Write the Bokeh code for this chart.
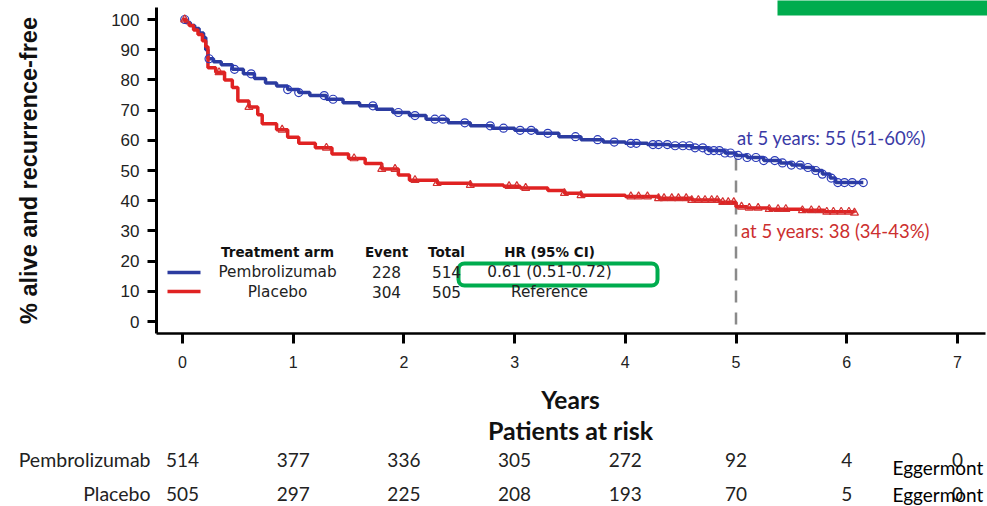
import numpy as np
from bokeh.plotting import figure
from bokeh.models import Range1d, Label, FixedTicker
from bokeh.embed import file_html
from bokeh.resources import INLINE

# Kaplan-Meier estimates: years since randomisation, % alive and recurrence-free
pembro_time = [0, 0.03, 0.07, 0.11, 0.15, 0.19, 0.21, 0.23, 0.28, 0.35,
               0.45, 0.55, 0.65, 0.75, 0.85, 0.95, 1.05, 1.15, 1.3, 1.45,
               1.6, 1.75, 1.9, 2.05, 2.2, 2.4, 2.6, 2.8, 3.0, 3.2,
               3.4, 3.6, 3.8, 4.0, 4.2, 4.4, 4.6, 4.75, 4.9, 5.0,
               5.1, 5.25, 5.4, 5.5, 5.6, 5.7, 5.78, 5.85, 5.9, 6.15]
pembro_surv = [100, 99, 98, 97, 95.5, 94, 90, 87, 86, 85,
               83.5, 82, 80.5, 79, 78, 76.8, 75.8, 74.8, 73.6, 72.4,
               71.4, 70.3, 69.2, 68.2, 67.0, 65.8, 64.8, 64.0, 63.3, 62.3,
               61.2, 60.2, 59.4, 59.0, 58.6, 58.2, 57.5, 56.6, 55.8, 55.0,
               54.3, 53.3, 52.5, 51.8, 51.0, 50.0, 48.8, 47.5, 46.0, 46.0]

placebo_time = [0, 0.03, 0.06, 0.1, 0.14, 0.18, 0.21, 0.23, 0.3, 0.38,
                0.45, 0.5, 0.6, 0.68, 0.72, 0.85, 0.95, 1.05, 1.2, 1.35,
                1.5, 1.65, 1.8, 1.95, 2.05, 2.3, 2.6, 2.9, 3.05, 3.3,
                3.45, 3.6, 4.0, 4.3, 4.6, 4.85, 5.0, 5.1, 5.3, 5.6,
                5.8, 6.07]
placebo_surv = [100, 99, 98, 96.5, 95, 93, 91, 84, 82.5, 80,
                77.5, 73, 71, 68.5, 65.5, 63.5, 61, 59, 57.5, 55.5,
                54, 52.3, 50.5, 48.5, 46.8, 45.8, 45.2, 44.8, 44.2, 43.4,
                42.5, 41.8, 41.4, 40.8, 40.2, 39.5, 38.0, 37.6, 37.2, 36.8,
                36.3, 36.0]

# censoring times
pembro_censor = [0.02, 0.24, 0.47, 0.62, 0.95, 1.05, 1.28, 1.36, 1.72, 1.95,
                 2.1, 2.28, 2.35, 2.55, 2.78, 2.9, 3.05, 3.15, 3.3, 3.55,
                 3.75, 3.9, 4.05, 4.1, 4.25, 4.3, 4.38, 4.45, 4.52, 4.58,
                 4.63, 4.7, 4.75, 4.8, 4.85, 4.9, 4.95, 5.02, 5.1, 5.18,
                 5.25, 5.35, 5.42, 5.5, 5.58, 5.65, 5.72, 5.78, 5.86, 5.92,
                 5.98, 6.05, 6.15]
placebo_censor = [0.02, 0.33, 0.6, 0.9, 1.3, 1.55, 1.8, 1.92, 2.1, 2.3,
                  2.6, 2.95, 3.02, 3.1, 3.45, 3.6, 4.05, 4.12, 4.2, 4.3,
                  4.35, 4.42, 4.48, 4.55, 4.6, 4.66, 4.72, 4.78, 4.83, 4.88,
                  4.93, 4.98, 5.05, 5.12, 5.2, 5.3, 5.38, 5.45, 5.6, 5.68,
                  5.75, 5.82, 5.88, 5.95, 6.02, 6.07]

# patients at risk
risk_years = [0, 1, 2, 3, 4, 5, 6, 7]
pembro_at_risk = [514, 377, 336, 305, 272, 92, 4, 0]
placebo_at_risk = [505, 297, 225, 208, 193, 70, 5, 0]

# summary table
arms = ["Pembrolizumab", "Placebo"]
events = [228, 304]
totals = [514, 505]
hazard_ratios = ["0.61 (0.51-0.72)", "Reference"]
five_year_rate = [55, 38]
five_year_ci = ["51-60%", "34-43%"]

x_ticks = [0, 1, 2, 3, 4, 5, 6, 7]
y_ticks = [0, 10, 20, 30, 40, 50, 60, 70, 80, 90, 100]

BLUE = "#2c3ca0"
BLUE_MARK = "#2a3ab8"
RED = "#e02222"
RED_MARK = "#d43030"
GREEN = "#00ac4e"

# screen placement of the data: the frame fills the whole page and the
# axes sit at fixed locations inside it, so the risk table is not clipped
X0_PX, X_SCALE = 182.0, 110.7   # x pixel of year 0, pixels per year
Y0_PX, Y_SCALE = 321.0, 3.02    # y pixel of 0 %, pixels per percent point


def xd(px):
    return (px - X0_PX) / X_SCALE


def yd(py):
    return (Y0_PX - py) / Y_SCALE


def surv_at(times, surv, t):
    idx = np.searchsorted(np.asarray(times), np.asarray(t), side="right") - 1
    return np.asarray(surv)[idx]


p = figure(width=987, height=506,
           x_range=Range1d(xd(0), xd(987)),
           y_range=Range1d(yd(506), yd(0)),
           output_backend="svg", toolbar_location=None, min_border=0)
p.outline_line_color = None
p.grid.visible = False
p.background_fill_color = "white"
p.border_fill_color = "white"

p.xaxis.fixed_location = yd(333)
p.xaxis.ticker = FixedTicker(ticks=x_ticks)
p.xaxis.bounds = (xd(156), xd(985))
p.xaxis.axis_line_width = 2.5
p.xaxis.major_tick_line_width = 3
p.xaxis.major_tick_out = 10
p.xaxis.major_tick_in = 0
p.xaxis.minor_tick_line_color = None
p.xaxis.major_label_text_font = "Liberation Sans"
p.xaxis.major_label_text_font_size = "16px"
p.xaxis.major_label_text_color = "#222222"
p.xaxis.major_label_standoff = 12

p.yaxis.fixed_location = xd(156)
p.yaxis.ticker = FixedTicker(ticks=y_ticks)
p.yaxis.bounds = (yd(333), yd(7))
p.yaxis.axis_line_width = 3
p.yaxis.major_tick_line_width = 3
p.yaxis.major_tick_out = 9
p.yaxis.major_tick_in = 0
p.yaxis.minor_tick_line_color = None
p.yaxis.major_label_text_font = "Liberation Sans"
p.yaxis.major_label_text_font_size = "17px"
p.yaxis.major_label_text_color = "#222222"
p.yaxis.major_label_standoff = 8

# y-axis title, vertical beside the tick labels
p.add_layout(Label(x=xd(28), y=yd(170), text="% alive and recurrence-free",
                   angle=np.pi / 2, text_font="Liberation Sans",
                   text_font_style="bold", text_font_size="23.5px",
                   text_color="#111111", text_align="center",
                   text_baseline="middle"))

# 5-year reference line
p.segment(x0=[5], y0=[54], x1=[5], y1=[yd(333)], line_color="#8a8a8a",
          line_width=2.5, line_dash="12 10")

# survival curves with censoring marks
p.step(pembro_time, pembro_surv, mode="after", line_color=BLUE, line_width=3.5)
p.step(placebo_time, placebo_surv, mode="after", line_color=RED, line_width=3.5)
p.scatter(pembro_censor, surv_at(pembro_time, pembro_surv, pembro_censor),
          marker="circle", size=8, fill_color=None, line_color=BLUE_MARK,
          line_width=1.2)
p.scatter(placebo_censor, surv_at(placebo_time, placebo_surv, placebo_censor),
          marker="triangle", size=8, fill_color=None, line_color=RED_MARK,
          line_width=1.2)


def add_text(x, y, text, size, font="DejaVu Sans", color="#111111",
             align="center", bold=False, x_offset=0):
    p.add_layout(Label(x=x, y=y, text=text, text_font=font,
                       text_font_size=f"{size}px", text_color=color,
                       text_align=align, text_baseline="middle",
                       text_font_style="bold" if bold else "normal",
                       x_offset=x_offset))


# 5-year estimates
add_text(5, yd(137), f"at 5 years: {five_year_rate[0]} ({five_year_ci[0]})",
         18.5, font="Lato", color="#3a3aa6", align="left", x_offset=1)
add_text(5, yd(230), f"at 5 years: {five_year_rate[1]} ({five_year_ci[1]})",
         18.5, font="Lato", color="#cc2f2f", align="left", x_offset=5)

# summary table inside the plot
col_px = [277, 386, 446, 549]
headers = ["Treatment arm", "Event", "Total", "HR (95% CI)"]
for cx, h in zip(col_px, headers):
    add_text(xd(cx), yd(251), h, 13.5, bold=True)
row_py = [271, 291]
for i, ry in enumerate(row_py):
    add_text(xd(col_px[0]), yd(ry), arms[i], 15.3, color="#222222")
    add_text(xd(col_px[1]), yd(ry), str(events[i]), 15.3, color="#222222")
    add_text(xd(col_px[2]), yd(ry), str(totals[i]), 15.3, color="#222222")
    add_text(xd(col_px[3]), yd(ry), hazard_ratios[i], 15.3, color="#222222")
p.line([xd(167), xd(200)], [yd(272), yd(272)], line_color=BLUE, line_width=3.5)
p.line([xd(167), xd(200)], [yd(291), yd(291)], line_color=RED, line_width=3.5)

# highlight boxes
p.quad(left=[xd(458)], right=[xd(657)], top=[yd(263)], bottom=[yd(285)],
       fill_color=None, line_color=GREEN, line_width=4, border_radius=6)
p.quad(left=[xd(777)], right=[xd(990)], top=[yd(-2)], bottom=[yd(15)],
       fill_color=GREEN, line_color=None)

# axis title and patients-at-risk table
add_text(xd(570), yd(399), "Years", 24.5, font="Lato", bold=True)
add_text(xd(570), yd(429), "Patients at risk", 25, font="Lato", bold=True)

for ry, name, counts in [(459, arms[0], pembro_at_risk),
                         (493, arms[1], placebo_at_risk)]:
    add_text(xd(150), yd(ry), name, 19.5, font="Lato", color="#222222",
             align="right")
    for yr, n in zip(risk_years, counts):
        add_text(yr, yd(ry), str(n), 19, font="Lato", color="#222222")

add_text(xd(892), yd(467), "Eggermont", 19, font="Lato", color="#000000",
         align="left")
add_text(xd(892), yd(494), "Eggermont", 19, font="Lato", color="#000000",
         align="left")

open("out.html", "w").write(file_html(p, INLINE))
